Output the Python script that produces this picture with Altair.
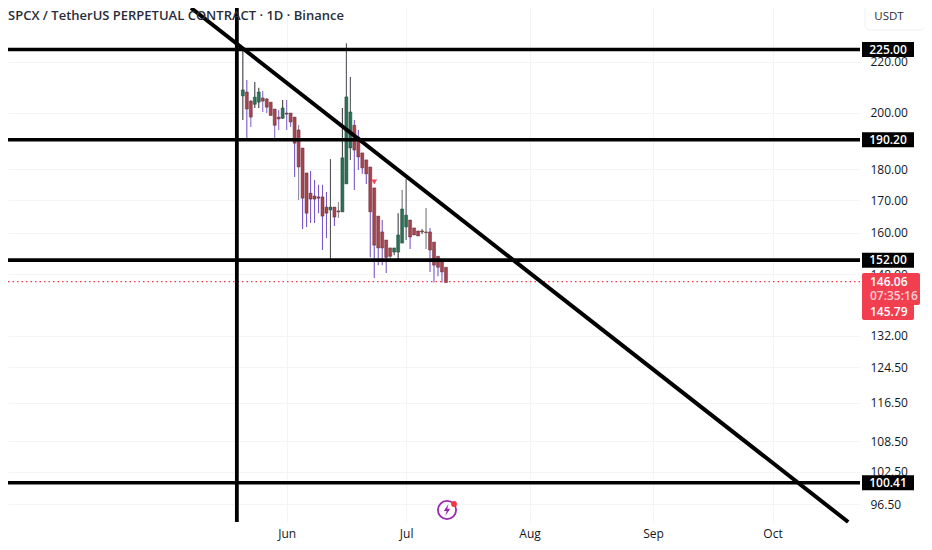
import altair as alt
import pandas as pd

first_day = "2026-05-21"
opens = [206.4, 207.9, 204.4, 203.2, 204.0, 205.6, 205.2, 204.0, 201.4, 198.4, 198.0, 199.9, 199.9, 198.4, 193.7, 187.3, 178.8, 172.2, 171.3, 171.0, 171.0, 167.8, 166.9, 167.8, 166.6, 166.3, 175.2, 187.3, 195.4, 191.2, 185.6, 183.2, 180.8, 173.9, 165.0, 160.2, 157.8, 155.5, 154.3, 154.3, 156.9, 161.7, 163.8, 161.4, 160.5, 160.5, 160.2, 160.2, 157.2, 153.1, 151.7, 150.0]
closes = [208.7, 201.4, 198.4, 205.9, 207.9, 204.4, 202.1, 199.0, 195.4, 197.7, 201.8, 199.5, 196.6, 189.0, 180.8, 170.6, 165.9, 170.3, 170.3, 170.6, 165.0, 165.9, 167.8, 164.7, 166.3, 183.9, 206.0, 200.3, 186.6, 184.2, 180.5, 178.5, 166.3, 156.3, 155.5, 155.5, 152.8, 153.1, 155.5, 159.3, 167.2, 165.3, 158.7, 159.3, 159.0, 160.2, 160.0, 154.9, 150.6, 150.0, 148.7, 145.8]
highs = [225.0, 212.6, 204.8, 211.8, 209.5, 208.3, 205.6, 204.0, 201.4, 201.0, 204.8, 204.8, 199.9, 198.4, 195.5, 187.3, 178.8, 179.5, 176.5, 174.9, 174.9, 172.6, 183.5, 167.8, 169.4, 201.8, 227.7, 213.8, 197.3, 193.7, 185.6, 183.2, 180.8, 173.9, 165.0, 163.8, 157.8, 155.5, 155.5, 165.9, 173.2, 176.8, 163.8, 161.4, 160.5, 161.1, 167.5, 161.4, 157.2, 153.1, 151.7, 150.0]
lows = [197.3, 190.1, 194.8, 201.8, 201.8, 200.3, 199.9, 199.0, 190.1, 193.7, 197.7, 193.7, 194.8, 177.5, 170.0, 161.1, 161.7, 162.9, 162.9, 165.9, 154.9, 158.4, 152.0, 162.0, 164.4, 166.3, 175.2, 183.2, 173.2, 179.8, 178.5, 175.2, 152.8, 147.0, 150.6, 150.6, 148.4, 152.0, 153.4, 152.0, 156.9, 157.8, 155.2, 159.3, 159.0, 159.6, 155.2, 148.7, 145.8, 147.5, 145.8, 145.8]
wicks = ["#3d3d45", "#7a58c8", "#8a6cc8", "#3d3d45", "#3d3d45", "#8a6cc8", "#8a6cc8", "#888090", "#8a6cc8", "#8a6cc8", "#3d3d45", "#8a6cc8", "#8a6cc8", "#7a58c8", "#8f8aa5", "#7a58c8", "#7a58c8", "#7a58c8", "#7a58c8", "#7a58c8", "#7a58c8", "#7a58c8", "#55555c", "#7a58c8", "#8a8a8a", "#3d3d45", "#55555c", "#55555c", "#7a58c8", "#7a58c8", "#7a58c8", "#7a58c8", "#7a58c8", "#7a58c8", "#7a58c8", "#7a58c8", "#7a58c8", "#8a8a8a", "#55555c", "#3d3d45", "#777777", "#55555c", "#7a58c8", "#7a58c8", "#7a58c8", "#55555c", "#777777", "#7a58c8", "#7a58c8", "#7a58c8", "#7a58c8", "#8a3040"]

levels = [225.00, 190.20, 152.00, 100.41]
price_ticks = [220, 200, 180, 170, 160, 148, 132, 124.5, 116.5, 108.5, 102.5, 96.5]
last_price = 146.06
title_text = "SPCX / TetherUS PERPETUAL CONTRACT · 1D · Binance"
trend_dates = ["2026-05-08T00:00:00", "2026-10-20T00:00:00"]
trend_prices = [243.1, 93.34]
vline_date = "2026-05-19T12:00:00"
marker_date = "2026-06-23T00:00:00"
marker_price = 175.8

dates = pd.date_range(first_day, periods=len(opens), freq="D").strftime("%Y-%m-%dT00:00:00")
df = pd.DataFrame({"date": dates, "open": opens, "close": closes, "high": highs, "low": lows, "wick": wicks})
df["fill"] = ["#2f6f56" if c > o else "#a8434f" for o, c in zip(opens, closes)]
df["edge"] = ["#1f4a3a" if c > o else "#5a3038" for o, c in zip(opens, closes)]

FONT = "Open Sans"
x_scale = alt.Scale(domain=[alt.DateTime(year=2026, month=3, date=24, hours=7),
                            alt.DateTime(year=2026, month=10, date=21, hours=17)], nice=False)
y_scale = alt.Scale(type="log", domain=[93.34, 243.1], nice=False, zero=False)
x_enc = alt.X("date:T", scale=x_scale, title=None,
              axis=alt.Axis(values=[alt.DateTime(year=2026, month=m, date=1) for m in (6, 7, 8, 9, 10)],
                            format="%b", grid=True, gridColor="#f3f4f6", domain=False, ticks=False,
                            labelPadding=6, labelFont=FONT, labelFontSize=12, labelColor="#131722",
                            labelFontWeight=500))
y_enc = alt.Y("low:Q", scale=y_scale, title=None,
              axis=alt.Axis(orient="right", values=price_ticks, format=".2f", grid=True, gridColor="#f3f4f6",
                            domain=False, ticks=False, labelPadding=10, labelFont=FONT, labelFontSize=12,
                            labelColor="#131722"))

wick_layer = alt.Chart(df).mark_rule(strokeWidth=1.1).encode(
    x=x_enc, y=y_enc, y2="high:Q", color=alt.Color("wick:N", scale=None))
body_layer = alt.Chart(df).mark_bar(size=3, strokeWidth=0.5).encode(
    x="date:T", y=alt.Y("open:Q", scale=y_scale), y2="close:Q",
    fill=alt.Fill("fill:N", scale=None), stroke=alt.Stroke("edge:N", scale=None))

level_df = pd.DataFrame({"price": levels, "label": [f"{v:.2f}" for v in levels]})
level_rules = alt.Chart(level_df).mark_rule(color="black", strokeWidth=3.6).encode(
    y=alt.Y("price:Q", scale=y_scale))
level_tags = alt.Chart(level_df).mark_rule(color="black", strokeWidth=15).encode(
    x=alt.value(854), x2=alt.value(906), y=alt.Y("price:Q", scale=y_scale))
level_text = alt.Chart(level_df).mark_text(color="white", font=FONT, fontSize=12, fontWeight=600, align="center", baseline="middle").encode(
    x=alt.value(880), y=alt.Y("price:Q", scale=y_scale), text="label:N")

vline = alt.Chart(pd.DataFrame({"date": [vline_date]})).mark_rule(color="black", strokeWidth=3.8).encode(
    x=alt.X("date:T", scale=x_scale))
trend = alt.Chart(pd.DataFrame({"date": trend_dates, "price": trend_prices})).mark_line(color="black", strokeWidth=4).encode(
    x=alt.X("date:T", scale=x_scale), y=alt.Y("price:Q", scale=y_scale))
dotted = alt.Chart(pd.DataFrame({"price": [last_price]})).mark_rule(color="#f23645", strokeWidth=1.2, strokeDash=[1.5, 3]).encode(
    y=alt.Y("price:Q", scale=y_scale))
marker = alt.Chart(pd.DataFrame({"date": [marker_date], "price": [marker_price]})).mark_point(
    shape="triangle-down", filled=True, color="#f2475a", size=32, opacity=1).encode(
    x=alt.X("date:T", scale=x_scale), y=alt.Y("price:Q", scale=y_scale))

red_top = alt.Chart(pd.DataFrame({"k": [0]})).mark_rect(color="#f23f50", cornerRadius=2).encode(
    x=alt.value(854), x2=alt.value(912), y=alt.value(265), y2=alt.value(297))
red_bottom = alt.Chart(pd.DataFrame({"k": [0]})).mark_rect(color="#f23f50", cornerRadius=2).encode(
    x=alt.value(854), x2=alt.value(906), y=alt.value(295), y2=alt.value(312))
red_text = alt.Chart(pd.DataFrame({"t": ["146.06", "07:35:16", "145.79"],
                                   "y": [274, 288, 304], "c": ["white", "#fbd0d5", "white"]})).mark_text(
    font=FONT, fontSize=12, fontWeight=600, align="left", baseline="middle").encode(
    x=alt.value(862), y=alt.Y("y:Q", scale=None), text="t:N", color=alt.Color("c:N", scale=None))

title = alt.Chart(pd.DataFrame({"t": [title_text]})).mark_text(
    font=FONT, fontSize=13, fontWeight=600, color="#2a2e39", align="left", baseline="middle").encode(
    x=alt.value(0), y=alt.value(8), text="t:N")
usdt_box = alt.Chart(pd.DataFrame({"k": [0]})).mark_rect(fill="white", stroke="#eef0f3", cornerRadius=5).encode(
    x=alt.value(857), x2=alt.value(917), y=alt.value(-4), y2=alt.value(22))
usdt = alt.Chart(pd.DataFrame({"t": ["USDT"]})).mark_text(
    font=FONT, fontSize=11.5, fontWeight=500, color="#2a2e39", align="center", baseline="middle").encode(
    x=alt.value(881), y=alt.value(9), text="t:N")

icon_ring = alt.Chart(pd.DataFrame({"k": [0]})).mark_point(shape="circle", size=330, filled=False, color="#9c27b0", strokeWidth=1.8, opacity=1).encode(
    x=alt.value(439), y=alt.value(502))
icon_bolt = alt.Chart(pd.DataFrame({"k": [0]})).mark_point(
    shape="M0.25,-1 L-0.55,0.15 L-0.05,0.15 L-0.3,1 L0.55,-0.2 L0.05,-0.2 Z",
    size=140, filled=True, color="#9c27b0", opacity=1).encode(x=alt.value(439), y=alt.value(502))
icon_dot = alt.Chart(pd.DataFrame({"k": [0]})).mark_point(shape="circle", size=34, filled=True, color="#f23645", opacity=1).encode(
    x=alt.value(446), y=alt.value(496))

chart = alt.layer(
    wick_layer, body_layer, marker, dotted, level_rules, vline, trend,
    red_top, red_bottom, red_text, level_tags, level_text,
    title, usdt_box, usdt, icon_ring, icon_bolt, icon_dot,
).properties(
    width=852, height=514, background="white",
    autosize=alt.AutoSizeParams(type="none"),
    padding={"left": 0, "top": 0, "right": 64, "bottom": 20},
).configure_view(stroke=None)

chart.save("out.html", embed_options={"renderer": "svg", "actions": False})
